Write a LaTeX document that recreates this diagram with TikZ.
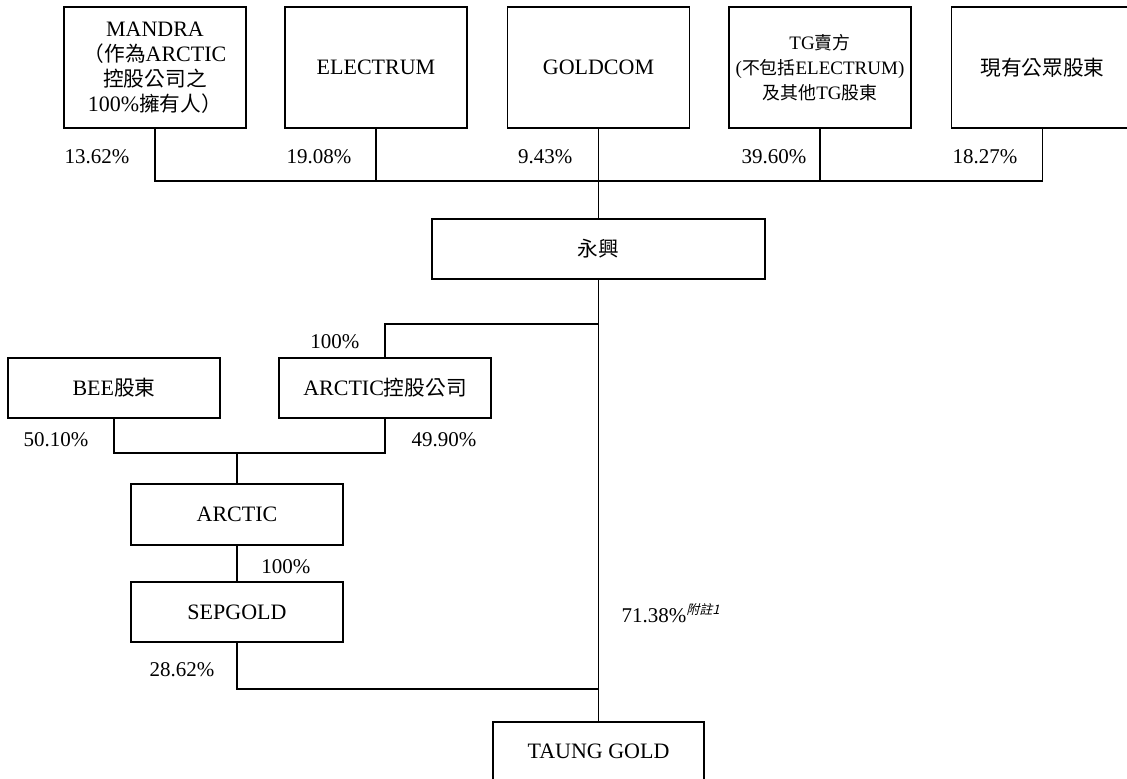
\documentclass[tikz,border=0pt]{standalone}
\usepackage{fontspec}
\setmainfont{Liberation Serif}
\newfontfamily\cjk[Scale=0.94]{Noto Sans CJK TC}
\newfontfamily\cjkit[FakeSlant=0.25]{Noto Sans CJK TC}
\newcommand{\zh}[1]{{\cjk #1}}
\begin{document}
\begin{tikzpicture}[x=0.5pt, y=-0.5pt, line width=0.6pt,
  box/.style={draw, align=center, inner sep=0pt, font=\fontsize{11}{12.5}\selectfont},
  topbox/.style={box, minimum width=91pt, minimum height=60.5pt},
  midbox/.style={box, minimum width=106pt, minimum height=30pt},
  pct/.style={anchor=east, inner sep=0pt, font=\fontsize{10.5}{12}\selectfont}]
\useasboundingbox (0,0) rectangle (1127,778);
% shareholders
\node[topbox] (mandra) at (155,67.5) {MANDRA\\\zh{（作為}ARCTIC\\\zh{控股公司之}\\100\%\zh{擁有人）}};
\node[topbox] (electrum) at (376,67.5) {ELECTRUM};
\node[topbox] (goldcom) at (598.5,67.5) {GOLDCOM};
\node[topbox, font=\fontsize{9.5}{12.5}\selectfont] (tgseller) at (820,67.5) {TG\zh{賣方}\\(\zh{不包括}ELECTRUM)\\\zh{及其他}TG\zh{股東}};
\node[topbox] (public) at (1042.5,67.5) {\zh{現有公眾股東}};
\node[box, minimum width=166.5pt, minimum height=30pt] (yongxing) at (598.5,249) {\zh{永興}};
\node[midbox] (bee) at (114,388) {BEE\zh{股東}};
\node[midbox] (arctichold) at (385,388) {ARCTIC\zh{控股公司}};
\node[midbox, minimum height=30.5pt] (arctic) at (237,514.5) {ARCTIC};
\node[midbox] (sepgold) at (237,612) {SEPGOLD};
\node[box, minimum width=105.5pt, minimum height=29pt] (taung) at (598.5,751) {TAUNG GOLD};
% connectors
\coordinate (topbar) at (598,181);
\draw (mandra.south) |- (public.south |- topbar) -- (public.south);
\foreach \n in {electrum, tgseller}
  \draw (\n.south) -- (\n.south |- topbar);
\draw (goldcom.south) -- (yongxing.north);
\draw (yongxing.south) -- (taung.north);
\coordinate (holdbar) at (598,324);
\draw (holdbar) -| (arctichold.north);
\coordinate (beebar) at (237,453);
\draw (bee.south) |- (beebar) -| (arctichold.south);
\draw (beebar) -- (arctic.north);
\draw (arctic.south) -- (sepgold.north);
\coordinate (sepbar) at (598,689);
\draw (sepgold.south) |- (sepbar);
% percentages
\node[pct] (pmandra) at (130,157) {13.62\%};
\node[pct] (pelectrum) at (352,157) {19.08\%};
\node[pct] (pgoldcom) at (573,157) {9.43\%};
\node[pct] (ptgseller) at (807,157) {39.60\%};
\node[pct] (ppublic) at (1018,157) {18.27\%};
\node[pct] (phold) at (360,342) {100\%};
\node[pct] (pbee) at (89,440) {50.10\%};
\node[pct] (parctichold) at (477,440) {49.90\%};
\node[pct] (parctic) at (311,567) {100\%};
\node[pct] (psepgold) at (215,670) {28.62\%};
\node[pct, anchor=west] (ptaung) at (621,613) {71.38\%\textsuperscript{\cjkit\fontsize{6.5}{7}\selectfont 附註1}};
\end{tikzpicture}
\end{document}
